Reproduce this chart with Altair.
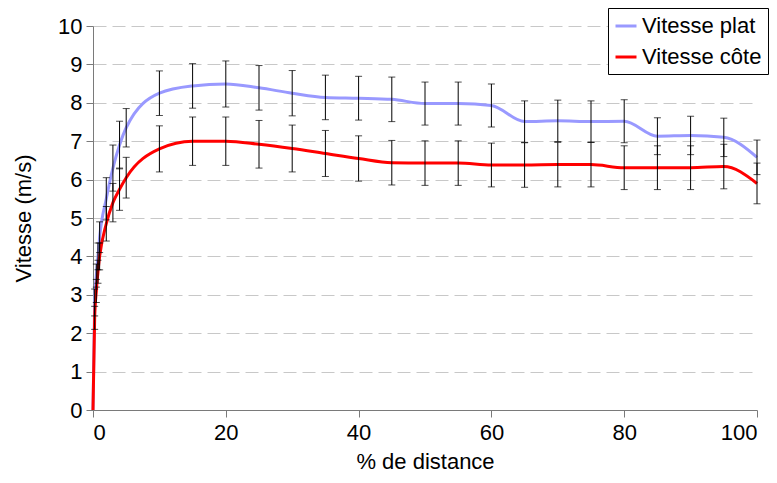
import altair as alt
import pandas as pd

# ---- data ----
distance = [0, 0.25, 0.5, 0.75, 1, 2, 3, 4, 5, 10, 15, 20, 25, 30, 35, 40, 45,
            50, 55, 60, 65, 70, 75, 80, 85, 90, 95, 100]
vitesse_plat = [0, 2.8, 3.5, 4.0, 4.5, 5.5, 6.3, 6.9, 7.35, 8.25, 8.44, 8.49, 8.39,
                8.25, 8.14, 8.12, 8.09, 7.98, 7.98, 7.93, 7.51, 7.53, 7.51, 7.52,
                7.13, 7.15, 7.10, 6.58]
erreur_plat = [0, 0.35, 0.3, 0.35, 0.4, 0.55, 0.6, 0.62, 0.5, 0.58, 0.58, 0.6, 0.58,
               0.59, 0.58, 0.57, 0.58, 0.56, 0.56, 0.56, 0.54, 0.54, 0.54, 0.56,
               0.48, 0.5, 0.5, 0.45]
vitesse_cote = [0, 2.4, 3.1, 3.6, 4.0, 4.85, 5.4, 5.75, 6.05, 6.8, 7.0, 7.0, 6.92,
                6.81, 6.68, 6.55, 6.44, 6.43, 6.43, 6.38, 6.38, 6.39, 6.39, 6.31,
                6.31, 6.31, 6.34, 5.9]
erreur_cote = [0, 0.3, 0.3, 0.3, 0.35, 0.45, 0.5, 0.55, 0.53, 0.6, 0.63, 0.63, 0.62,
               0.61, 0.6, 0.59, 0.58, 0.58, 0.58, 0.57, 0.58, 0.58, 0.58, 0.57,
               0.57, 0.57, 0.58, 0.53]
series = ["Vitesse plat", "Vitesse côte"]
colors = ["#9999FF", "#FF0000"]
x_ticks = [0, 20, 40, 60, 80, 100]
y_ticks = [0, 1, 2, 3, 4, 5, 6, 7, 8, 9, 10]

rows = []
for name, vals, errs in [(series[0], vitesse_plat, erreur_plat),
                         (series[1], vitesse_cote, erreur_cote)]:
    for i, (d, v, e) in enumerate(zip(distance, vals, errs)):
        rows.append({"serie": name, "order": i, "d": d, "v": v,
                     "lo": v - e, "hi": v + e, "e": e})
df = pd.DataFrame(rows)

FONT = "Liberation Sans"

xscale = alt.Scale(domain=[0, 100], nice=False)
yscale = alt.Scale(domain=[0, 10], nice=False)
xaxis = alt.Axis(values=x_ticks, title="% de distance", grid=False, labelOverlap=False)
yaxis = alt.Axis(values=y_ticks, title="Vitesse (m/s)", grid=True, labelOverlap=False,
                 gridDash=[13, 6], gridColor="#c8c8c8", gridWidth=1)


def X(field):
    return alt.X(field, type="quantitative", scale=xscale, axis=xaxis)


def Y(field):
    return alt.Y(field, type="quantitative", scale=yscale, axis=yaxis)


lines = alt.Chart(df).mark_line(interpolate="monotone", strokeWidth=3).encode(
    x=X("d"), y=Y("v"),
    color=alt.Color("serie:N", scale=alt.Scale(domain=series, range=colors),
                    sort=series,
                    legend=alt.Legend(title=None, orient="none", legendX=515, legendY=-18,
                                      strokeColor="black", fillColor="white",
                                      padding=6, rowPadding=8, labelFontSize=22,
                                      labelFont=FONT, labelColor="black",
                                      symbolType="stroke", symbolSize=441,
                                      symbolStrokeWidth=3, labelOffset=4)),
    order="order:Q",
)

err_df = df[df["e"] > 0]
bars = alt.Chart(err_df).mark_rule(color="black", strokeWidth=1).encode(
    x=X("d"), y=Y("lo"), y2="hi:Q")
caps_hi = alt.Chart(err_df).mark_tick(color="black", orient="horizontal", size=7,
                                     thickness=1).encode(x=X("d"), y=Y("hi"))
caps_lo = alt.Chart(err_df).mark_tick(color="black", orient="horizontal", size=7,
                                     thickness=1).encode(x=X("d"), y=Y("lo"))

chart = alt.layer(lines, bars, caps_hi, caps_lo).properties(
    width=664, height=384,
    autosize="none",
    padding={"left": 85, "top": 18, "right": 12, "bottom": 65},
).configure_view(stroke=None).configure_axis(
    domainColor="#7a7a7a", tickColor="#7a7a7a", tickSize=7,
    labelFont=FONT, titleFont=FONT, labelFontSize=22, titleFontSize=22,
    labelColor="black", titleColor="black", titleFontWeight="normal",
).configure_axisY(titlePadding=22, labelPadding=4).configure_axisX(
    titlePadding=8, labelPadding=5)

chart.save("out.html", embed_options={"renderer": "svg", "actions": False})
